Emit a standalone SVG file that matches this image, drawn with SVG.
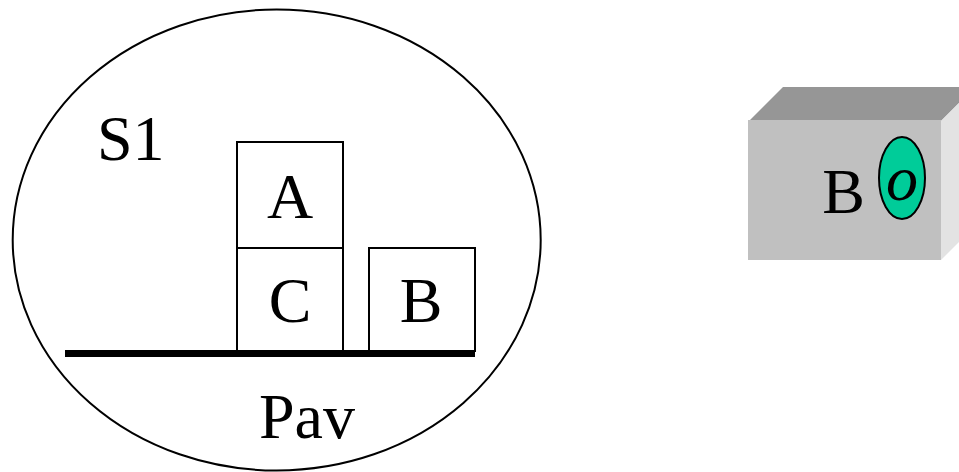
<svg xmlns="http://www.w3.org/2000/svg" width="959" height="472" viewBox="0 0 959 472">
<style>
.t{font-family:"Liberation Serif","Times New Roman",serif;font-size:64px;fill:#000}
.blk{fill:#fff;stroke:#000;stroke-width:2}
</style>
<rect width="959" height="472" fill="#fff"/>
<g id="situation">
<ellipse cx="276.7" cy="240" rx="264" ry="230.5" fill="none" stroke="#000" stroke-width="2"/>
<text class="t" x="97" y="160">S1</text>
</g>
<g id="blockA"><rect class="blk" x="237" y="142" width="106" height="106"/><text class="t" x="290" y="218" text-anchor="middle">A</text></g>
<g id="blockC"><rect class="blk" x="237" y="248" width="106" height="103"/><text class="t" x="290" y="322" text-anchor="middle">C</text></g>
<g id="blockB"><rect class="blk" x="369" y="248" width="106" height="103"/><text class="t" x="421" y="322" text-anchor="middle">B</text></g>
<g id="pav"><rect x="65" y="350" width="410" height="7" fill="#000"/><text class="t" x="259" y="438">Pav</text></g>
<g id="objectB">
<polygon points="749,121 783,87 975,87 941,121" fill="#969696"/>
<polygon points="941,121 975,87 975,226 941,260" fill="#e3e3e3"/>
<rect x="748" y="120" width="193" height="140" fill="#c0c0c0"/>
<text class="t" x="843.5" y="213" text-anchor="middle">B</text>
<ellipse cx="902" cy="178" rx="23" ry="41" fill="#00cc99" stroke="#000" stroke-width="2"/>
<text class="t" x="902" y="200" text-anchor="middle" font-style="italic">o</text>
</g>
<g id="connectors"/>
</svg>
